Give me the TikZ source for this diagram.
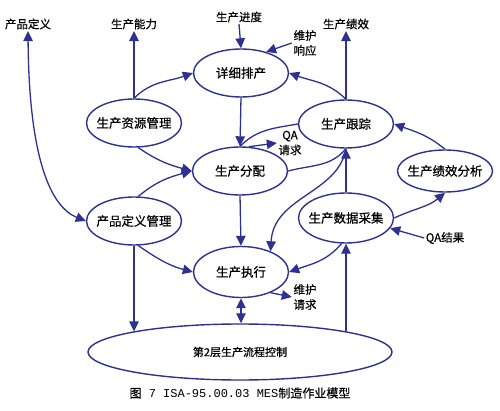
\documentclass[tikz,border=0pt]{standalone}
\usepackage{fontspec}
\setmainfont{Noto Sans CJK SC}[FakeBold=0.5]
\newfontfamily\capmono{Liberation Mono}
\usetikzlibrary{shapes.geometric,arrows.meta}
\definecolor{mesblue}{RGB}{46,49,146}
\begin{document}
\begin{tikzpicture}[x=1pt,y=1pt,>={Triangle[length=10pt,width=9.5pt]},line join=round,
	proc/.style={ellipse,draw=mesblue,line width=1.4pt,minimum width=95pt,minimum height=48pt,inner xsep=-5pt,inner ysep=0pt,font=\fontsize{12.5}{14}\selectfont},
	lbl/.style={inner sep=1.5pt,font=\fontsize{11.5}{15}\selectfont,align=center},
	conn/.style={draw=mesblue,line width=1.3pt}]
	\fill[white] (0,0) rectangle (500,-411);
	\useasboundingbox (0,0) rectangle (500,-411);
	% activities
	\node[proc] (sched) at (241,-73) {详细排产};
	\node[proc] (res) at (134,-123) {生产资源管理};
	\node[proc] (disp) at (240,-171) {生产分配};
	\node[proc] (track) at (346,-124) {生产跟踪};
	\node[proc,minimum height=42pt] (perf) at (445,-171) {生产绩效分析};
	\node[proc] (pdef) at (134,-221) {产品定义管理};
	\node[proc,minimum height=50pt] (coll) at (346,-218) {生产数据采集};
	\node[proc,minimum height=51pt] (exec) at (241,-272) {生产执行};
	\node[proc,minimum width=304pt,minimum height=56pt,font=\fontsize{11}{13}\selectfont] (ctrl) at (240,-352) {第2层生产流程控制};
	% outer labels
	\node[lbl] (lpdef) at (28,-24) {产品定义};
	\node[lbl] (lcap) at (134,-24) {生产能力};
	\node[lbl] (lsch) at (239,-17) {生产进度};
	\node[lbl] (lperf) at (346,-24) {生产绩效};
	\node[lbl] (lmresp) at (305,-43) {维护\\响应};
	\node[lbl] (lqareq) at (290,-143) {QA\\请求};
	\node[lbl] (lqares) at (445,-238) {QA结果};
	\node[lbl] (lmreq) at (305,-297) {维护\\请求};
	\node[font=\fontsize{12}{14}\selectfont] (cap) at (240,-393) {图{\capmono\ 7 ISA-95.00.03 MES}制造作业模型};
	% connectors
	\draw[conn,<->] (lpdef.south) .. controls +(1,-128) and +(-35,14) .. (pdef.west);
	\draw[conn,->] (res.north) -- (lcap.south);
	\draw[conn,->] (res.north) to[out=45,in=200] (sched.west);
	\draw[conn,->] (res.-80) to[out=-35,in=165] (disp.west);
	\draw[conn,->] (pdef.80) to[out=40,in=195] (disp.west);
	\draw[conn,->] (pdef.-80) to[out=-35,in=165] (exec.west);
	\draw[conn,->] (pdef.south) -- (pdef.south |- ctrl.169);
	\draw[conn,->] (lsch.south) -- (sched.north);
	\draw[conn,->] (lmresp.west) -- (sched.40);
	\draw[conn,->] (sched.south) -- (disp.north);
	\draw[conn,->] (disp.south) -- (exec.north);
	\draw[conn,->] (track.north) -- (lperf.south);
	\draw[conn,->] (track.north) to[out=135,in=-20] (sched.east);
	\draw[conn] (track.west) to[out=190,in=45] (disp.north);
	\draw[conn,->] (disp.70) -- (lqareq.west);
	\draw[conn] (disp.east) to[out=15,in=-130] (track.south);
	\draw[conn,->] (track.south) .. controls +(-8,-45) and +(3,55) .. (exec.35);
	\draw[conn,->] (perf.north) to[out=140,in=-20] (track.east);
	\draw[conn,->] (coll.east) to[out=25,in=-140] (perf.south);
	\draw[conn,->] (lqares.west) -- (coll.-13);
	\draw[conn,->] (coll.north) -- (track.south);
	\draw[conn,->] (coll.south |- ctrl.11) -- (coll.south);
	\draw[conn,->] (coll.-100) to[out=-130,in=20] (exec.east);
	\draw[conn,<->] (exec.south) -- (exec.south |- ctrl.north);
	\draw[conn,->] (exec.-35) -- (lmreq.west);
\end{tikzpicture}
\end{document}
